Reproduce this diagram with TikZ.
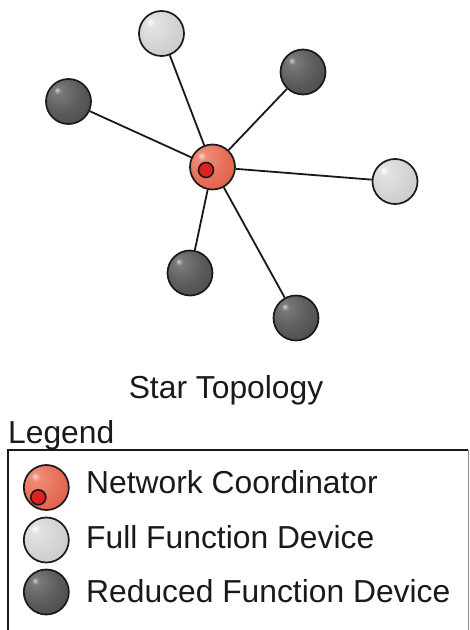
\documentclass[tikz,border=0pt]{standalone}
\usepackage{fontspec}
\setmainfont{Liberation Sans}
\definecolor{txt}{HTML}{1A1A1A}
\definecolor{dkA}{HTML}{D0D0D0}
\definecolor{dkB}{HTML}{7A7A7A}
\definecolor{dkC}{HTML}{5E5E5E}
\definecolor{dkD}{HTML}{424242}
\definecolor{dkE}{HTML}{303030}
\definecolor{ltA}{HTML}{FFFFFF}
\definecolor{ltB}{HTML}{E2E2E2}
\definecolor{ltC}{HTML}{D2D2D2}
\definecolor{ltD}{HTML}{C0C0C0}
\definecolor{ltE}{HTML}{B2B2B2}
\definecolor{rdA}{HTML}{FBD4CC}
\definecolor{rdB}{HTML}{EF8C77}
\definecolor{rdC}{HTML}{E66C54}
\definecolor{rdD}{HTML}{D6543E}
\definecolor{rdE}{HTML}{C84530}
\definecolor{dotred}{HTML}{DD2222}
\pgfdeclareradialshading{darkball}{\pgfpoint{-13bp}{13bp}}{color(0bp)=(dkA); color(4bp)=(dkB); color(20bp)=(dkC); color(45bp)=(dkD); color(65bp)=(dkE)}
\pgfdeclareradialshading{lightball}{\pgfpoint{-13bp}{13bp}}{color(0bp)=(ltA); color(5bp)=(ltB); color(25bp)=(ltC); color(50bp)=(ltD); color(65bp)=(ltE)}
\pgfdeclareradialshading{redball}{\pgfpoint{-13bp}{13bp}}{color(0bp)=(rdA); color(5bp)=(rdB); color(25bp)=(rdC); color(50bp)=(rdD); color(65bp)=(rdE)}
\tikzset{
  ballnode/.style={circle, draw=black!90, line width=1.7bp, minimum size=45bp, inner sep=0pt},
  coordball/.style={ballnode, shading=redball},
  ffdball/.style={ballnode, shading=lightball},
  rfdball/.style={ballnode, shading=darkball},
  reddot/.style={circle, draw=black!90, line width=1.6bp, fill=dotred, minimum size=15bp, inner sep=0pt},
  link/.style={line width=1.8bp, draw=black!90},
  label/.style={inner sep=0pt, anchor=base west, text=txt, font=\fontsize{31.8bp}{36bp}\selectfont},
}
\begin{document}
\begin{tikzpicture}[x=1bp, y=-1bp]
\useasboundingbox (0,0) rectangle (470,630);
% star
\node[coordball] (nc) at (212.5,167) {};
\node[reddot] (ncdot) at (206,170) {};
\node[ffdball] (f1) at (161.5,33.5) {};
\node[rfdball] (r1) at (303,72) {};
\node[rfdball] (r2) at (68.5,101.5) {};
\node[ffdball] (f2) at (395,181.5) {};
\node[rfdball] (r3) at (190,273) {};
\node[rfdball] (r4) at (296,318) {};
\foreach \n in {f1,r1,r2,f2,r3,r4} \draw[link] (nc) -- (\n);
% title
\node[label, anchor=base] (title) at (226,398) {Star Topology};
% legend
\node[label] (legtitle) at (8,443) {Legend};
\coordinate (lbl) at (8,632);
\coordinate (ltl) at (8,450);
\coordinate (ltr) at (468,450);
\coordinate (lbr) at (468,632);
\draw[line width=1.6bp, black!90] (lbl) -- (ltl) -- (ltr);
\draw[line width=0.8bp, black!45] (ltr) -- (lbr);
\node[coordball] (lg1) at (46.3,487.5) {};
\node[reddot] (lg1dot) at (38.3,497.3) {};
\node[ffdball] (lg2) at (46.3,540) {};
\node[rfdball] (lg3) at (46.3,592) {};
\node[label] (lt1) at (86,493) {Network Coordinator};
\node[label] (lt2) at (86,548) {Full Function Device};
\node[label] (lt3) at (86,602) {Reduced Function Device};
\end{tikzpicture}
\end{document}
